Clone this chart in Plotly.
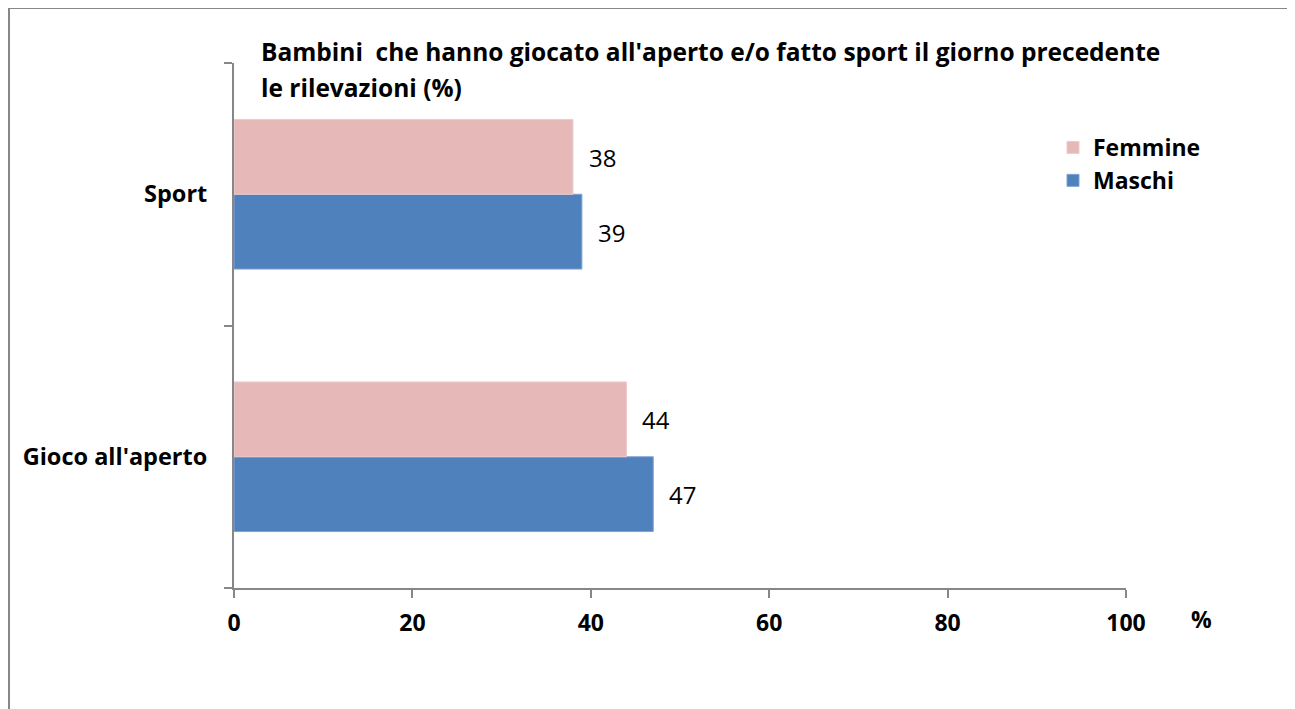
import plotly.graph_objects as go

# data
categories = ["Gioco all'aperto", "Sport"]
femmine = [44, 38]
maschi = [47, 39]
x_ticks = [0, 20, 40, 60, 80, 100]

title_lines = ["Bambini  che hanno giocato all'aperto e/o fatto sport il giorno precedente",
               "le rilevazioni (%)"]

# the page puts the figure 8px in from the top-left corner
W, H = 1287, 701
L, T = 226, 55
R = W - 1118
B = H - 580
PW, PH = W - L - R, H - T - B
FONT = "Open Sans"
GRAY = "#878787"


def px_x(px):
    return (px - L) / PW


def px_y(py):
    return (H - B - py) / PH


fig = go.Figure()
# maschi first so it sits below femmine within each group
fig.add_trace(go.Bar(y=categories, x=maschi, name="<b>Maschi</b>", orientation="h", legendgroup="m",
                     marker=dict(color="#4F81BD", line=dict(color="#7FA3D3", width=1))))
fig.add_trace(go.Bar(y=categories, x=femmine, name="<b>Femmine</b>", orientation="h", legendgroup="f",
                     marker=dict(color="#E6B9B8", line=dict(color="#EDCACA", width=1))))

annotations = []
for cat, v in zip(categories, femmine):
    annotations.append(dict(x=v, y=cat, text=str(v), showarrow=False, xanchor="left",
                            xshift=14, yshift=37, font=dict(size=24, color="black", family=FONT)))
for cat, v in zip(categories, maschi):
    annotations.append(dict(x=v, y=cat, text=str(v), showarrow=False, xanchor="left",
                            xshift=14, yshift=-38, font=dict(size=24, color="black", family=FONT)))

for line, ypx in zip(title_lines, [44, 79]):
    annotations.append(dict(xref="paper", yref="paper", x=px_x(251), y=px_y(ypx), text="<b>" + line + "</b>",
                            showarrow=False, xanchor="left", yanchor="middle", align="left",
                            font=dict(size=24.5, color="black", family=FONT)))
annotations.append(dict(xref="paper", yref="paper", x=px_x(1193), y=px_y(611), text="<b>%</b>",
                        showarrow=False, xanchor="center", yanchor="middle",
                        font=dict(size=23, color="black", family=FONT)))

fig.update_layout(
    width=W, height=H,
    margin=dict(l=L, r=R, t=T, b=B),
    barmode="group", bargap=0.43, bargroupgap=0,
    plot_bgcolor="white", paper_bgcolor="white",
    font=dict(family=FONT, color="black"),
    showlegend=True,
    legend=dict(x=px_x(1045), y=px_y(118), xanchor="left", yanchor="top",
                traceorder="reversed", font=dict(size=23, family=FONT, color="black"),
                bgcolor="rgba(0,0,0,0)", tracegroupgap=5),
    annotations=annotations,
    shapes=[dict(type="rect", xref="paper", yref="paper",
                 x0=px_x(1), x1=px_x(1284), y0=px_y(740), y1=px_y(0),
                 line=dict(color=GRAY, width=2), fillcolor="rgba(0,0,0,0)", layer="below")],
)

fig.update_xaxes(range=[0, 100], tickvals=x_ticks, ticktext=["<b>%d</b>" % t for t in x_ticks],
                 showgrid=False, zeroline=False, showline=True, linecolor=GRAY, linewidth=2,
                 ticks="outside", ticklen=8, tickwidth=2, tickcolor=GRAY,
                 tickfont=dict(size=23, family=FONT, color="black"), ticklabelstandoff=5)
fig.update_yaxes(categoryorder="array", categoryarray=categories,
                 tickvals=categories, ticktext=["<b>%s</b>" % c for c in categories],
                 showgrid=False, zeroline=False, showline=True, linecolor=GRAY, linewidth=2,
                 ticks="outside", ticklen=8, tickwidth=2, tickcolor=GRAY, tickson="boundaries",
                 tickfont=dict(size=23.5, family=FONT, color="black"), ticklabelstandoff=20)

fig.write_html("out.html")
